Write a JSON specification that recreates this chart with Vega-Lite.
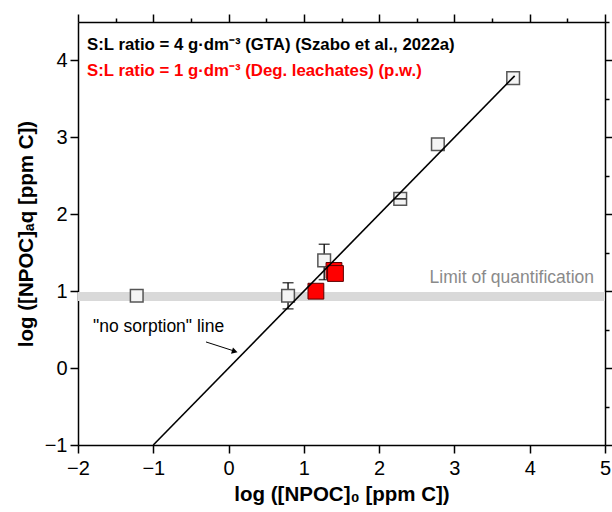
{
  "$schema": "https://vega.github.io/schema/vega-lite/v6.json",
  "width": 527,
  "height": 423,
  "autosize": {"type": "none"},
  "padding": {"left": 78, "top": 22, "right": 7, "bottom": 67},
  "background": "white",
  "config": {
    "view": {"stroke": null},
    "axis": {
      "grid": false,
      "domainColor": "black",
      "domainWidth": 1.5,
      "tickColor": "black",
      "tickWidth": 1.5,
      "labelFont": "Liberation Sans",
      "labelFontSize": 20,
      "labelColor": "black",
      "titleFont": "Liberation Sans",
      "titleFontSize": 20.5,
      "titleFontWeight": "bold",
      "titleColor": "black"
    }
  },
  "resolve": {"axis": {"x": "independent", "y": "independent"}},
  "layer": [
    {
      "data": {"values": [{"x": -2, "x2": 5, "y": 0.93}]},
      "mark": {"type": "rule", "color": "#d9d9d9", "strokeWidth": 9},
      "encoding": {
        "x": {"field": "x", "type": "quantitative", "scale": {"domain": [-2, 5], "nice": false, "zero": false},
          "axis": {"orient": "bottom", "values": [-2, -1.5, -1, -0.5, 0, 0.5, 1, 1.5, 2, 2.5, 3, 3.5, 4, 4.5, 5],
            "format": "d", "labelExpr": "datum.value % 1 === 0 ? datum.label : ''",
            "tickSize": {"condition": {"test": "datum.value % 1 === 0", "value": 8}, "value": 4},
            "labelPadding": 5, "labelFlush": false, "labelOverlap": false, "title": "log ([NPOC]₀ [ppm C])", "titlePadding": 6}},
        "x2": {"field": "x2"},
        "y": {"field": "y", "type": "quantitative", "scale": {"domain": [-1, 4.5], "nice": false, "zero": false},
          "axis": {"orient": "left", "values": [-1, -0.5, 0, 0.5, 1, 1.5, 2, 2.5, 3, 3.5, 4, 4.5],
            "format": "d", "labelExpr": "datum.value % 1 === 0 ? datum.label : ''",
            "tickSize": {"condition": {"test": "datum.value % 1 === 0", "value": 8}, "value": 4},
            "labelPadding": 3, "labelFlush": false, "labelOverlap": false, "title": "log ([NPOC]ₐq [ppm C])", "titlePadding": 8}}
      }
    },
    {
      "data": {"values": [{"x": -2, "y": -1}]},
      "mark": {"type": "point", "opacity": 0},
      "encoding": {
        "x": {"field": "x", "type": "quantitative",
          "axis": {"orient": "top", "values": [-2, -1.5, -1, -0.5, 0, 0.5, 1, 1.5, 2, 2.5, 3, 3.5, 4, 4.5, 5],
            "labels": false, "title": null,
            "tickSize": {"condition": {"test": "datum.value % 1 === 0", "value": 8}, "value": 4}}},
        "y": {"field": "y", "type": "quantitative",
          "axis": {"orient": "right", "values": [-1, -0.5, 0, 0.5, 1, 1.5, 2, 2.5, 3, 3.5, 4, 4.5],
            "labels": false, "title": null,
            "tickSize": {"condition": {"test": "datum.value % 1 === 0", "value": 8}, "value": 4}}}
      }
    },
    {
      "data": {"values": [{"x": 2.67, "y": 1.17, "label": "Limit of quantification"}]},
      "mark": {"type": "text", "align": "left", "baseline": "middle", "font": "Liberation Sans", "fontSize": 17.5, "color": "#8a8a8a"},
      "encoding": {
        "x": {"field": "x", "type": "quantitative", "axis": null},
        "y": {"field": "y", "type": "quantitative", "axis": null},
        "text": {"field": "label"}
      }
    },
    {
      "data": {"values": [
        {"x": 0.79, "ylo": 0.77, "yhi": 1.11},
        {"x": 1.27, "ylo": 1.15, "yhi": 1.61},
        {"x": 2.28, "ylo": 2.12, "yhi": 2.28},
        {"x": 3.78, "ylo": 3.72, "yhi": 3.82}
      ]},
      "layer": [
        {"mark": {"type": "rule", "color": "black", "strokeWidth": 1.3},
         "encoding": {"x": {"field": "x", "type": "quantitative", "axis": null}, "y": {"field": "ylo", "type": "quantitative", "axis": null}, "y2": {"field": "yhi"}}},
        {"mark": {"type": "tick", "orient": "horizontal", "color": "black", "size": 11, "thickness": 1.5},
         "encoding": {"x": {"field": "x", "type": "quantitative", "axis": null}, "y": {"field": "ylo", "type": "quantitative", "axis": null}}},
        {"mark": {"type": "tick", "orient": "horizontal", "color": "black", "size": 11, "thickness": 1.5},
         "encoding": {"x": {"field": "x", "type": "quantitative", "axis": null}, "y": {"field": "yhi", "type": "quantitative", "axis": null}}}
      ]
    },
    {
      "data": {"values": [
        {"x": -1.22, "y": 0.94},
        {"x": 0.79, "y": 0.94},
        {"x": 1.27, "y": 1.40},
        {"x": 2.28, "y": 2.20},
        {"x": 2.78, "y": 2.91},
        {"x": 3.78, "y": 3.77}
      ]},
      "mark": {"type": "point", "shape": "square", "filled": true, "fill": "#f4f4f4", "stroke": "#555555", "strokeWidth": 1.5, "size": 160, "opacity": 1},
      "encoding": {
        "x": {"field": "x", "type": "quantitative", "axis": null},
        "y": {"field": "y", "type": "quantitative", "axis": null}
      }
    },
    {
      "data": {"values": [{"y": 2.20, "xlo": 2.20, "xhi": 2.36}]},
      "mark": {"type": "rule", "color": "black", "strokeWidth": 1.3},
      "encoding": {"x": {"field": "xlo", "type": "quantitative", "axis": null}, "x2": {"field": "xhi"}, "y": {"field": "y", "type": "quantitative", "axis": null}}
    },
    {
      "data": {"values": [
        {"x": 1.16, "y": 1.00},
        {"x": 1.40, "y": 1.27},
        {"x": 1.42, "y": 1.23}
      ]},
      "mark": {"type": "point", "shape": "square", "filled": true, "fill": "#ff0000", "stroke": "#5a0000", "strokeWidth": 1, "size": 250, "opacity": 1},
      "encoding": {
        "x": {"field": "x", "type": "quantitative", "axis": null},
        "y": {"field": "y", "type": "quantitative", "axis": null}
      }
    },
    {
      "data": {"values": [{"x": -1, "y": -1}, {"x": 3.8, "y": 3.8}]},
      "mark": {"type": "line", "color": "black", "strokeWidth": 1.6},
      "encoding": {
        "x": {"field": "x", "type": "quantitative", "axis": null},
        "y": {"field": "y", "type": "quantitative", "axis": null}
      }
    },
    {
      "data": {"values": [{"x": -1.8, "y": 0.53, "label": "\"no sorption\" line"}]},
      "mark": {"type": "text", "align": "left", "baseline": "middle", "font": "Liberation Sans", "fontSize": 17.5, "color": "black"},
      "encoding": {
        "x": {"field": "x", "type": "quantitative", "axis": null},
        "y": {"field": "y", "type": "quantitative", "axis": null},
        "text": {"field": "label"}
      }
    },
    {
      "data": {"values": [{"x": -0.3, "y": 0.34, "x2": 0.08, "y2": 0.22}]},
      "mark": {"type": "rule", "color": "black", "strokeWidth": 1},
      "encoding": {
        "x": {"field": "x", "type": "quantitative", "axis": null},
        "y": {"field": "y", "type": "quantitative", "axis": null},
        "x2": {"field": "x2"},
        "y2": {"field": "y2"}
      }
    },
    {
      "data": {"values": [{"x": 0.07, "y": 0.22}]},
      "mark": {"type": "point", "shape": "triangle", "filled": true, "color": "black", "size": 45, "angle": 107, "opacity": 1},
      "encoding": {
        "x": {"field": "x", "type": "quantitative", "axis": null},
        "y": {"field": "y", "type": "quantitative", "axis": null}
      }
    },
    {
      "data": {"values": [
        {"x": -1.88, "y": 4.2, "label": "S:L ratio = 4 g·dm⁻³ (GTA) (Szabo et al., 2022a)", "grp": "a"},
        {"x": -1.88, "y": 3.86, "label": "S:L ratio = 1 g·dm⁻³ (Deg. leachates) (p.w.)", "grp": "b"}
      ]},
      "mark": {"type": "text", "align": "left", "baseline": "middle", "font": "Liberation Sans", "fontSize": 16.8, "fontWeight": "bold"},
      "encoding": {
        "x": {"field": "x", "type": "quantitative", "axis": null},
        "y": {"field": "y", "type": "quantitative", "axis": null},
        "text": {"field": "label"},
        "color": {"field": "grp", "type": "nominal", "scale": {"domain": ["a", "b"], "range": ["black", "#ff0000"]}, "legend": null}
      }
    }
  ]
}
